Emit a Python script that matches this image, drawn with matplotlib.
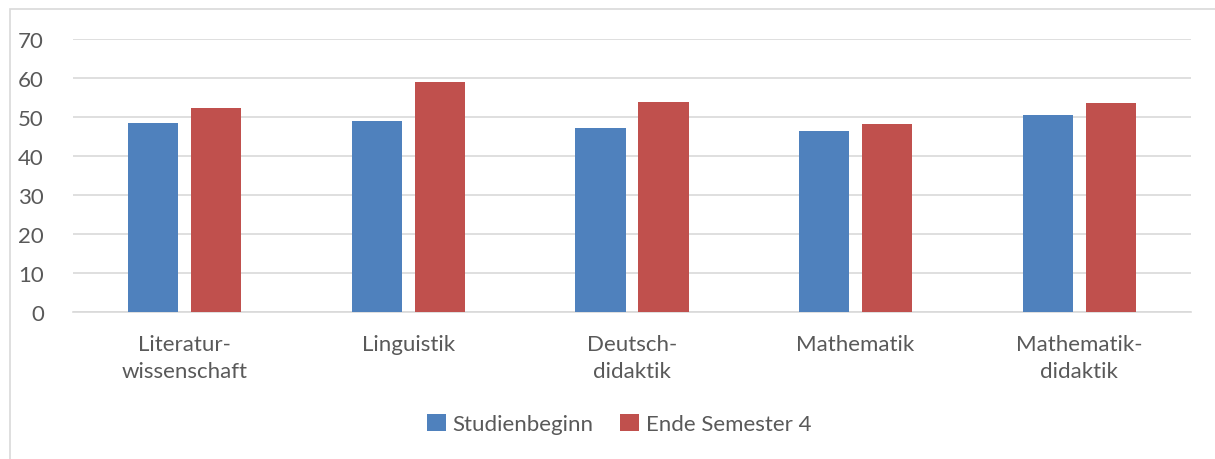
import matplotlib
matplotlib.use("Agg")
import matplotlib.pyplot as plt
import numpy as np
from matplotlib.patches import Rectangle

categories = ["Literatur-\nwissenschaft", "Linguistik", "Deutsch-\ndidaktik", "Mathematik", "Mathematik-\ndidaktik"]
studienbeginn = [48.5, 49.1, 47.2, 46.3, 50.5]
ende_sem4 = [52.2, 58.9, 53.8, 48.3, 53.5]
series_names = ["Studienbeginn", "Ende Semester 4"]
yticks = [0, 10, 20, 30, 40, 50, 60, 70]

plt.rcParams['font.family'] = ['Lato', 'DejaVu Sans']
txt = '#595959'
grid = '#d9d9d9'
blue = '#4f81bd'
red = '#c0504d'
fs = 16

fig = plt.figure(figsize=(12.15, 4.6), dpi=100)
ax = fig.add_axes([73/1215, 1-313/460, (1191-73)/1215, 273/460])

x = np.arange(len(categories))
w = 0.224
gap = 0.058
ax.bar(x - (w+gap)/2, studienbeginn, w, color=blue, label=series_names[0], zorder=3)
ax.bar(x + (w+gap)/2, ende_sem4, w, color=red, label=series_names[1], zorder=3)

ax.set_xlim(-0.5, len(categories)-0.5)
ax.set_ylim(0, 70)
ax.set_yticks(yticks)
ax.set_yticklabels([str(t) for t in yticks], fontsize=fs, color=txt)
ax.set_xticks(x)
ax.set_xticklabels(categories, fontsize=fs, color=txt, linespacing=1.4)
ax.tick_params(axis='both', length=0)
ax.tick_params(axis='y', pad=21)
ax.tick_params(axis='x', pad=16)
ax.yaxis.grid(True, color=grid, linewidth=1.2, zorder=0)
for s in ['top', 'right', 'left']:
    ax.spines[s].set_visible(False)
ax.spines['bottom'].set_color(grid)
ax.spines['bottom'].set_linewidth(1.2)

leg = fig.legend(loc='center', bbox_to_anchor=(619/1215, 1-425/460), ncol=2, frameon=False,
                 fontsize=fs, handlelength=0.85, handleheight=0.85, handletextpad=0.3, columnspacing=1.2)
for t in leg.get_texts():
    t.set_color(txt)

fig.patches.append(Rectangle((10/1215, -0.05), 1.2, 1-10/460+0.05, transform=fig.transFigure,
                             fill=False, edgecolor=grid, linewidth=1.2))

fig.savefig("out.png", dpi=100)
